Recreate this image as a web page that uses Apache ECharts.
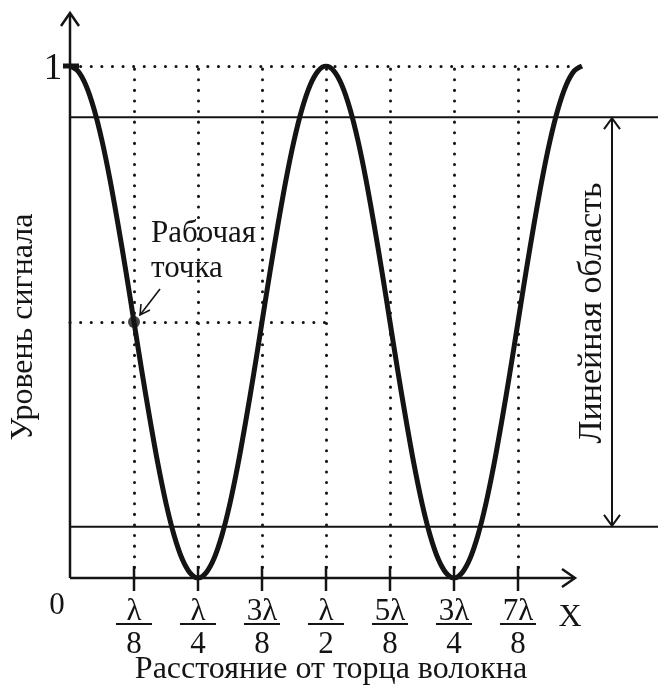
<!DOCTYPE html>
<html>
<head>
<meta charset="utf-8">
<script src="https://cdn.jsdelivr.net/npm/echarts@6/dist/echarts.min.js"></script>
<style>
  html, body { margin: 0; padding: 0; background: #fff; }
  #chart { width: 658px; height: 686px; }
</style>
</head>
<body>
<div id="chart"></div>
<script>
// Distance along the fibre, in units of λ/8 (sampled every λ/64)
const distance = [
  0, 0.125, 0.25, 0.375, 0.5, 0.625, 0.75, 0.875,
  1, 1.125, 1.25, 1.375, 1.5, 1.625, 1.75, 1.875,
  2, 2.125, 2.25, 2.375, 2.5, 2.625, 2.75, 2.875,
  3, 3.125, 3.25, 3.375, 3.5, 3.625, 3.75, 3.875,
  4, 4.125, 4.25, 4.375, 4.5, 4.625, 4.75, 4.875,
  5, 5.125, 5.25, 5.375, 5.5, 5.625, 5.75, 5.875,
  6, 6.125, 6.25, 6.375, 6.5, 6.625, 6.75, 6.875,
  7, 7.125, 7.25, 7.375, 7.5, 7.625, 7.75, 7.875, 8
];
// Normalised signal level at each distance
const signal = [
  1, 0.990, 0.962, 0.916, 0.854, 0.778, 0.691, 0.598,
  0.5, 0.402, 0.309, 0.222, 0.146, 0.084, 0.038, 0.010,
  0, 0.010, 0.038, 0.084, 0.146, 0.222, 0.309, 0.402,
  0.5, 0.598, 0.691, 0.778, 0.854, 0.916, 0.962, 0.990,
  1, 0.990, 0.962, 0.916, 0.854, 0.778, 0.691, 0.598,
  0.5, 0.402, 0.309, 0.222, 0.146, 0.084, 0.038, 0.010,
  0, 0.010, 0.038, 0.084, 0.146, 0.222, 0.309, 0.402,
  0.5, 0.598, 0.691, 0.778, 0.854, 0.916, 0.962, 0.990, 1
];
// Tick positions (λ/8 units) and fraction labels
const tickPos = [1, 2, 3, 4, 5, 6, 7];
const tickNum = ['λ', 'λ', '3λ', 'λ', '5λ', '3λ', '7λ'];
const tickDen = ['8', '4', '8', '2', '8', '4', '8'];
// Limits of the linear region and the operating point
const linearBounds = [0.1, 0.9];
const workPoint = [1, 0.5];

const FONT = '"Liberation Serif", "DejaVu Serif", serif';
const INK = '#141414';

const chart = echarts.init(document.getElementById('chart'), null, { renderer: 'canvas' });

const dotted = { color: INK, width: 3, type: [0.1, 10.5], cap: 'round' };

const guideLines = tickPos.map(p => [{ coord: [p, 0] }, { coord: [p, 1] }]);
guideLines.push([{ coord: [0, 1] }, { coord: [8, 1] }]);
guideLines.push([{ coord: [0, workPoint[1]] }, { coord: [4, workPoint[1]] }]);

chart.setOption({
  animation: false,
  backgroundColor: '#fff',
  grid: { left: 70, right: 76, top: 66, bottom: 108 },
  xAxis: {
    type: 'value', min: 0, max: 8, interval: 1,
    axisLine: { show: false }, axisTick: { show: false }, splitLine: { show: false },
    axisLabel: {
      margin: 16,
      fontFamily: FONT,
      color: INK,
      formatter: v => {
        const i = tickPos.indexOf(v);
        if (i < 0) return '';
        return '{n|' + tickNum[i] + '}\n{d|' + tickDen[i] + '}';
      },
      rich: {
        n: { fontFamily: FONT, fontSize: 31, lineHeight: 36, color: INK, align: 'center' },
        d: { fontFamily: FONT, fontSize: 31, lineHeight: 30, color: INK, align: 'center' }
      }
    }
  },
  yAxis: {
    type: 'value', min: 0, max: 1,
    axisLine: { show: false }, axisTick: { show: false }, splitLine: { show: false },
    axisLabel: { show: false }
  },
  series: [
    {
      type: 'line',
      data: distance.map((d, i) => [d, signal[i]]),
      smooth: 0.3,
      showSymbol: false,
      lineStyle: { color: INK, width: 5 },
      z: 5,
      markLine: {
        silent: true,
        symbol: ['none', 'none'],
        label: { show: false },
        lineStyle: dotted,
        data: guideLines,
        z: 1
      }
    },
    {
      type: 'scatter',
      data: [workPoint],
      symbol: 'circle',
      symbolSize: 12,
      itemStyle: { color: INK },
      z: 6
    }
  ]
});

function drawOverlay() {
  const W = chart.getWidth();
  const px = (x, y) => chart.convertToPixel({ gridIndex: 0 }, [x, y]);
  const o = px(0, 0);
  const xEnd = px(8, 0);
  const yTop = px(0, 1);
  const lnTop = px(0, linearBounds[1]);
  const lnBot = px(0, linearBounds[0]);
  const wp = px(workPoint[0], workPoint[1]);
  const axisStyle = { stroke: INK, lineWidth: 2.5, fill: null };
  const thin = { stroke: INK, lineWidth: 2, fill: null };
  const g = [];

  // axes with open arrowheads
  const yTip = yTop[1] - 53;
  const xTip = xEnd[0] - 7;
  g.push({ type: 'line', shape: { x1: o[0], y1: o[1], x2: o[0], y2: yTip + 1 }, style: axisStyle });
  g.push({ type: 'polyline', shape: { points: [[o[0] - 9, yTip + 13], [o[0], yTip], [o[0] + 9, yTip + 13]] }, style: axisStyle });
  g.push({ type: 'line', shape: { x1: o[0], y1: o[1], x2: xTip - 1, y2: o[1] }, style: axisStyle });
  g.push({ type: 'polyline', shape: { points: [[xTip - 13, o[1] - 9], [xTip, o[1]], [xTip - 13, o[1] + 9]] }, style: axisStyle });

  // x ticks and fraction bars
  tickPos.forEach(p => {
    const t = px(p, 0);
    g.push({ type: 'line', shape: { x1: t[0], y1: t[1] - 12, x2: t[0], y2: t[1] + 13 }, style: axisStyle });
    g.push({ type: 'line', shape: { x1: t[0] - 18, y1: 624, x2: t[0] + 18, y2: 624 }, style: { stroke: INK, lineWidth: 2 } });
  });

  // level-1 tick
  g.push({ type: 'line', shape: { x1: o[0] - 7, y1: yTop[1], x2: o[0] + 9, y2: yTop[1] }, style: { stroke: INK, lineWidth: 5 } });

  // linear-region limits
  g.push({ type: 'line', shape: { x1: o[0], y1: lnTop[1], x2: W, y2: lnTop[1] }, style: thin });
  g.push({ type: 'line', shape: { x1: o[0], y1: lnBot[1], x2: W, y2: lnBot[1] }, style: thin });

  // double arrow spanning the linear region
  const ax = 612;
  g.push({ type: 'line', shape: { x1: ax, y1: lnTop[1] + 1, x2: ax, y2: lnBot[1] - 1 }, style: thin });
  g.push({ type: 'polyline', shape: { points: [[ax - 8, lnTop[1] + 12], [ax, lnTop[1] + 1], [ax + 8, lnTop[1] + 12]] }, style: thin });
  g.push({ type: 'polyline', shape: { points: [[ax - 8, lnBot[1] - 12], [ax, lnBot[1] - 1], [ax + 8, lnBot[1] - 12]] }, style: thin });

  // operating point pointer
  const tip = [wp[0] + 6, wp[1] - 7];
  g.push({ type: 'line', shape: { x1: wp[0] + 26, y1: wp[1] - 33, x2: tip[0], y2: tip[1] }, style: { stroke: INK, lineWidth: 1.6 } });
  g.push({ type: 'polyline', shape: { points: [[tip[0] + 1, tip[1] - 11], [tip[0], tip[1]], [tip[0] + 10, tip[1] - 5]] }, style: { stroke: INK, lineWidth: 1.6, fill: null } });

  // text
  const txt = (text, x, y, size, extra) => g.push(Object.assign({
    type: 'text', x, y,
    style: Object.assign({ text, font: size + 'px ' + FONT, fill: INK, textAlign: 'center', textVerticalAlign: 'middle' }, extra || {})
  }));
  txt('1', 53, yTop[1] + 3, 37);
  txt('0', 57, 606, 31);
  txt('X', 570, 618, 32);
  txt('Расстояние от торца волокна', 331, 670, 32);
  txt('Рабочая', 151, 234, 31, { textAlign: 'left' });
  txt('точка', 151, 269, 31, { textAlign: 'left' });
  g.push({
    type: 'text', x: 24, y: 327, rotation: Math.PI / 2,
    style: { text: 'Уровень сигнала', font: '32px ' + FONT, fill: INK, textAlign: 'center', textVerticalAlign: 'middle' }
  });
  g.push({
    type: 'text', x: 592, y: 313, rotation: Math.PI / 2,
    style: { text: 'Линейная область', font: '34px ' + FONT, fill: INK, textAlign: 'center', textVerticalAlign: 'middle' }
  });

  chart.setOption({ graphic: g });
}
drawOverlay();
</script>
</body>
</html>
